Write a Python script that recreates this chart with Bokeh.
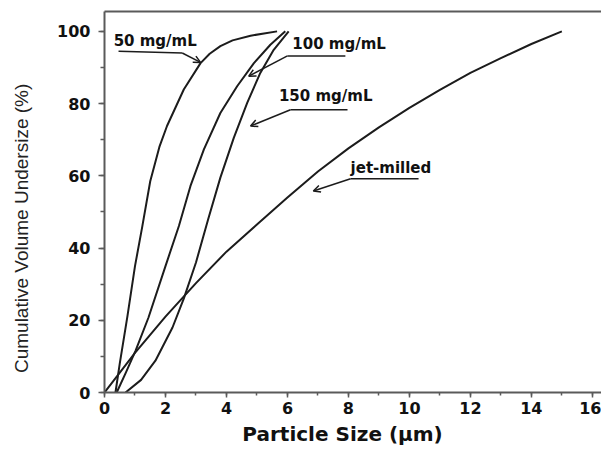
from bokeh.plotting import figure
from bokeh.models import (Range1d, LinearAxis, SingleIntervalTicker, FixedTicker,
                          Label, Arrow, OpenHead)
from bokeh.embed import file_html
from bokeh.resources import INLINE

# ---- data ----
c50_x = [0.36, 0.5, 0.75, 1.0, 1.24, 1.5, 1.8, 2.05, 2.6, 3.15, 3.45, 3.8, 4.2, 4.79, 5.66]
c50_y = [0, 8, 21, 35, 46, 58.5, 68, 73.8, 83.9, 91.2, 93.8, 95.9, 97.5, 98.8, 100]

c100_x = [0.4, 0.7, 1.02, 1.44, 2.0, 2.44, 2.82, 3.26, 3.8, 4.35, 4.9, 5.44, 5.93]
c100_y = [0, 5.5, 11.6, 20.7, 35, 46.1, 57.2, 67.3, 77.4, 84.8, 91.2, 96.3, 100]

c150_x = [0.69, 1.2, 1.67, 2.23, 2.6, 3.0, 3.4, 3.8, 4.24, 4.68, 5.11, 5.55, 6.04]
c150_y = [0, 3.5, 8.8, 18, 26, 36, 48, 59.5, 70.5, 80.2, 88.5, 94.9, 100]

jet_x = [0, 1, 2, 3, 4, 5, 6, 7, 8, 9, 10, 11, 12, 13, 14, 15]
jet_y = [0, 11, 21, 30.3, 39, 46.5, 54, 61.2, 67.6, 73.4, 78.8, 83.8, 88.5, 92.6, 96.5, 100]

series = [(c50_x, c50_y), (c100_x, c100_y), (c150_x, c150_y), (jet_x, jet_y)]

labels = ["50 mg/mL", "100 mg/mL", "150 mg/mL", "jet-milled"]
x_title = "Particle Size (µm)"
y_title = "Cumulative Volume Undersize (%)"

INK = "#1c1c1c"
AX = "#5a5a5a"
BOLD = "DejaVu Sans"

p = figure(width=601, height=450, output_backend="svg", toolbar_location=None,
           x_range=Range1d(0, 16.3), y_range=Range1d(0, 105.5),
           x_axis_location=None, y_axis_location=None,
           min_border_left=104, min_border_right=0, min_border_top=11,
           min_border_bottom=58)
p.outline_line_color = None
p.grid.visible = False
p.background_fill_color = "white"
p.border_fill_color = "white"

xaxis = LinearAxis(ticker=SingleIntervalTicker(interval=2, num_minor_ticks=2))
# trailing no-break spaces nudge the centred titles to where the reference has them
xaxis.axis_label = x_title + "\u00a0" * 3
yaxis = LinearAxis(ticker=SingleIntervalTicker(interval=20, num_minor_ticks=2))
yaxis.axis_label = y_title + "\u00a0" * 10
for ax, tout, mout in ((xaxis, 5, 3), (yaxis, 6, 4)):
    ax.axis_line_color = AX
    ax.axis_line_width = 2
    ax.major_tick_line_color = AX
    ax.major_tick_line_width = 1.5
    ax.minor_tick_line_color = AX
    ax.minor_tick_line_width = 1.5
    ax.major_tick_in = 0
    ax.major_tick_out = tout
    ax.minor_tick_in = 0
    ax.minor_tick_out = mout
    ax.major_label_text_font = BOLD
    ax.major_label_text_font_style = "bold"
    ax.major_label_text_font_size = "16px"
    ax.major_label_text_color = "#111111"
xaxis.major_label_standoff = 4
yaxis.major_label_standoff = 8
xaxis.axis_label_text_font = BOLD
xaxis.axis_label_text_font_style = "bold"
xaxis.axis_label_text_font_size = "20px"
xaxis.axis_label_text_color = "#111111"
xaxis.axis_label_standoff = 5
yaxis.axis_label_text_font = "Liberation Sans"
yaxis.axis_label_text_font_style = "normal"
yaxis.axis_label_text_font_size = "19px"
yaxis.axis_label_text_color = "#222222"
yaxis.axis_label_standoff = 22
p.add_layout(xaxis, "below")
p.add_layout(yaxis, "left")

top = LinearAxis(ticker=FixedTicker(ticks=[]), major_tick_out=0, major_tick_in=0,
                 minor_tick_out=0, minor_tick_in=0, major_label_standoff=0,
                 axis_line_color=AX, axis_line_width=2,
                 major_label_text_font_size="0px")
p.add_layout(top, "above")

for xs, ys in series:
    p.line(xs, ys, line_color=INK, line_width=2, line_join="round")

# annotations: text position, leader line, arrow start and tip
ann = [
    (labels[0], 0.3, 97.2, [0.46, 2.55], [94.5, 94.0], (2.55, 94.0), (3.15, 91.4)),
    (labels[1], 6.16, 96.4, [6.0, 7.9], [93.2, 93.2], (6.0, 93.2), (4.73, 87.6)),
    (labels[2], 5.72, 82.0, [6.1, 7.97], [78.3, 78.3], (6.1, 78.3), (4.79, 73.8)),
    (labels[3], 8.07, 62.2, [8.07, 10.3], [59.2, 59.2], (8.07, 59.2), (6.85, 55.8)),
]
for txt, tx, ty, lx, ly, (sx, sy), (ex, ey) in ann:
    p.add_layout(Label(x=tx, y=ty, text=txt, text_font=BOLD, text_font_style="bold",
                       text_font_size="15px", text_color="#111111",
                       text_align="left", text_baseline="middle"))
    p.line(lx, ly, line_color=INK, line_width=1.5)
    p.add_layout(Arrow(x_start=sx, y_start=sy, x_end=ex, y_end=ey,
                       line_color=INK, line_width=1.5,
                       end=OpenHead(size=7, line_color=INK, line_width=1.5)))

open("out.html", "w").write(file_html(p, INLINE))
